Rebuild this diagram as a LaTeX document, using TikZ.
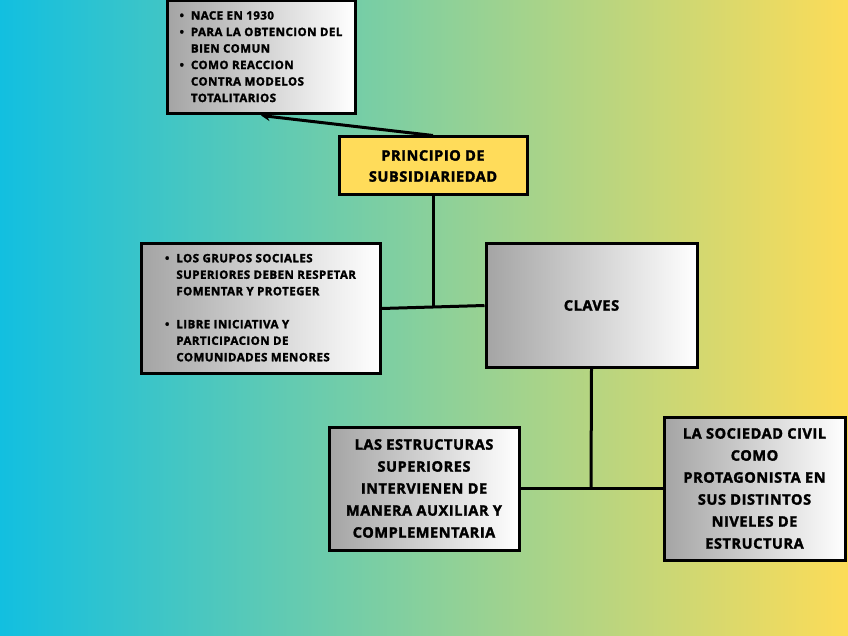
\documentclass[tikz,border=0pt]{standalone}
\usepackage{fontspec}
\setmainfont{Open Sans}[BoldFeatures={FakeBold=2, LetterSpace=4}]
\usetikzlibrary{arrows.meta}
\definecolor{bgL}{HTML}{12BFE0}
\definecolor{bgM}{HTML}{88D09C}
\definecolor{bgR}{HTML}{FCDC58}
\definecolor{boxgray}{HTML}{A4A4A4}
\definecolor{pryellow}{HTML}{FFDC5A}
\tikzset{
  gbox/.style={draw=black, line width=3pt, left color=boxgray, right color=white, inner sep=0pt, font=\bfseries, align=center},
  ybox/.style={draw=black, line width=3pt, fill=pryellow, inner sep=0pt, font=\bfseries, align=center},
  conn/.style={draw=black, line width=3pt},
}
\begin{document}
\begin{tikzpicture}[x=1pt,y=-1pt]
\useasboundingbox (0,0) rectangle (848,636);
\shade[left color=bgL, right color=bgR, middle color=bgM] (0,0) rectangle (848,636);

\node[gbox, minimum width=188pt, minimum height=113pt, font=\bfseries\fontsize{11.5}{16.5}\selectfont] (top) at (261,57.5)
{\begin{tabular}{@{}l@{\hspace{7pt}}l@{}}
\textbullet & NACE EN 1930\\
\textbullet & PARA LA OBTENCION DEL\\
 & BIEN COMUN\\
\textbullet & COMO REACCION\\
 & CONTRA MODELOS\\
 & TOTALITARIOS
\end{tabular}};

\node[ybox, minimum width=188pt, minimum height=58pt, font=\bfseries\fontsize{14.5}{21}\selectfont] (pr) at (433,166)
{PRINCIPIO DE\\SUBSIDIARIEDAD};

\node[gbox, minimum width=239pt, minimum height=129pt, font=\bfseries\fontsize{11.5}{16.5}\selectfont] (left) at (260.5,308.5)
{\begin{tabular}{@{}l@{\hspace{7pt}}l@{}}
\textbullet & LOS GRUPOS SOCIALES\\
 & SUPERIORES DEBEN RESPETAR\\
 & FOMENTAR Y PROTEGER\\[16.5pt]
\textbullet & LIBRE INICIATIVA Y\\
 & PARTICIPACION DE\\
 & COMUNIDADES MENORES
\end{tabular}};

\node[gbox, minimum width=211pt, minimum height=123pt, font=\bfseries\fontsize{14.5}{21}\selectfont] (claves) at (591.5,305.5) {CLAVES};

\node[gbox, minimum width=190pt, minimum height=123pt, font=\bfseries\fontsize{14.5}{22}\selectfont] (est) at (424,488.5)
{LAS ESTRUCTURAS\\SUPERIORES\\INTERVIENEN DE\\MANERA AUXILIAR Y\\COMPLEMENTARIA};

\node[gbox, minimum width=181pt, minimum height=143pt, font=\bfseries\fontsize{14.5}{22}\selectfont] (soc) at (754.5,488.5)
{LA SOCIEDAD CIVIL\\COMO\\PROTAGONISTA EN\\SUS DISTINTOS\\NIVELES DE\\ESTRUCTURA};

\coordinate (j1) at (433,307);
\coordinate (j2) at (591,488.5);

\draw[conn, -{Stealth[length=9pt,width=9pt]}] (pr.north) -- (top.south);
\draw[conn] (pr.south) -- (j1);
\draw[conn] (left.east) -- (claves.west);
\draw[conn] (claves.south) -- (j2);
\draw[conn] (est.east) -- (soc.west);
\end{tikzpicture}
\end{document}
